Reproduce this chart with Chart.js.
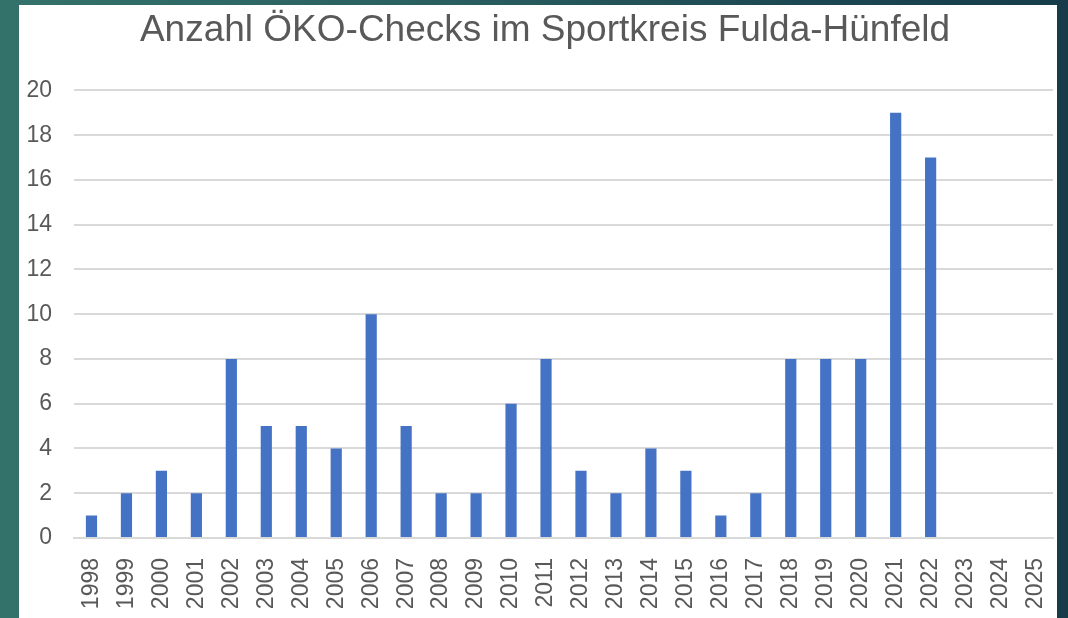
<!DOCTYPE html>
<html><head><meta charset="utf-8">
<script src="https://cdn.jsdelivr.net/npm/chart.js@4"></script>
<style>
html,body{margin:0;padding:0;}
body{width:1068px;height:618px;overflow:hidden;background:linear-gradient(90deg,#33726a 0%,#2a5f60 40%,#1c4752 75%,#163c49 100%);position:relative;}
#panel{position:absolute;left:19px;top:5px;width:1038px;height:613px;background:#fff;}
</style></head><body>
<div id="panel"><canvas id="c" width="1038" height="613"></canvas></div>
<script>
const titleText = "Anzahl ÖKO-Checks im Sportkreis Fulda-Hünfeld";
const years = ["1998","1999","2000","2001","2002","2003","2004","2005","2006","2007","2008","2009","2010","2011","2012","2013","2014","2015","2016","2017","2018","2019","2020","2021","2022","2023","2024","2025"];
const checks = [1,2,3,2,8,5,5,4,10,5,2,2,6,8,3,2,4,3,1,2,8,8,8,19,17,null,null,null];
const yTicks = [0,2,4,6,8,10,12,14,16,18,20];

const FONT = "'Liberation Sans', Arial, sans-serif";
const shiftTitle = {
  id: 'shiftTitle',
  afterLayout(chart) {
    const t = chart.titleBlock;
    if (t) { t.left += 9; t.right += 9; }
  }
};
new Chart(document.getElementById('c'), {
  type: 'bar',
  data: { labels: years, datasets: [{ data: checks, backgroundColor: '#4472c4', borderWidth: 0, barPercentage: 0.32, categoryPercentage: 1.0 }] },
  plugins: [shiftTitle],
  options: {
    responsive: false, animation: false,
    layout: { padding: { left: 0, right: 4, top: 0, bottom: 0 } },
    plugins: {
      legend: { display: false }, tooltip: { enabled: false },
      title: { display: true, text: titleText, color: '#595959', font: { family: FONT, size: 37, weight: 'normal' }, padding: { top: 4, bottom: 37 } }
    },
    scales: {
      x: {
        grid: { display: false, drawTicks: false },
        border: { display: true, color: '#d9d9d9', width: 2 },
        ticks: { color: '#595959', font: { family: FONT, size: 23 }, minRotation: 90, maxRotation: 90, padding: 20, autoSkip: false },
        afterFit: s => { s.height = 80; s.paddingLeft = 0; s.paddingRight = 0; }
      },
      y: {
        min: 0, max: 20,
        afterBuildTicks: s => { s.ticks = yTicks.map(v => ({ value: v })); },
        grid: { color: '#d9d9d9', lineWidth: 2, drawTicks: false },
        border: { display: false },
        ticks: { color: '#595959', font: { family: FONT, size: 23 }, padding: 22 },
        afterFit: s => { s.width = 55; s.paddingTop = 0; s.paddingBottom = 0; }
      }
    }
  }
});
</script>
</body></html>
